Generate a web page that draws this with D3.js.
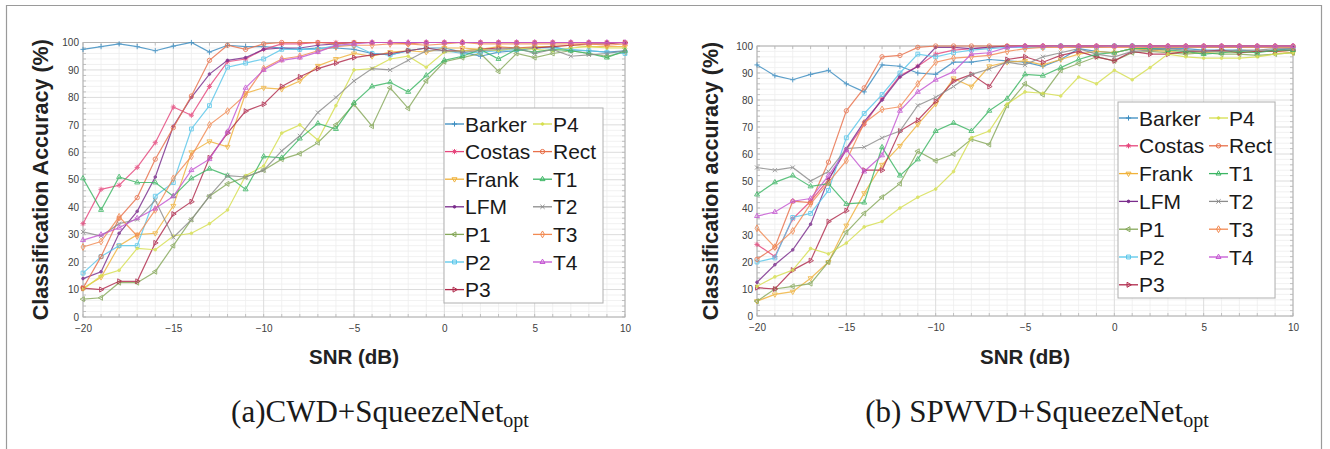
<!DOCTYPE html>
<html><head><meta charset="utf-8">
<script src="https://cdn.jsdelivr.net/npm/d3@7"></script>
<style>body{margin:0;background:#fff;} svg{display:block;}</style>
</head><body>
<svg id="c" width="1330" height="449"></svg>
<script>
const snr = d3.range(-20, 11, 1);
const seriesNames = ["Barker","Costas","Frank","LFM","P1","P2","P3","P4","Rect","T1","T2","T3","T4"];
const xTicks = [-20,-15,-10,-5,0,5,10];
const yTicks = [0,10,20,30,40,50,60,70,80,90,100];

// (a) CWD + SqueezeNet_opt
const cwdBarker = [97.5,98.5,99.5,98.5,97,98.7,100,96.5,99,98.5,98.5,98,97.5,98,98,97.5,96,95.5,97,98,98,96.5,95,96.5,97,98,98.5,97,97,96.5,97];
const cwdCostas = [34,46.5,48,54.5,63.5,76.5,73.5,84,93,94,97.5,99.5,99.5,100,100,100,100,100,100,100,100,100,100,100,100,100,100,100,100,100,100];
const cwdFrank  = [10.5,14.5,26,30,30.5,40.5,60,64,62,81.5,83.5,83,86,91.5,94,96,95,96.5,97,96.5,98,98,97.5,98.5,98,98.5,98.5,99,98.5,98.5,98.5];
const cwdLFM    = [14,16.5,30.5,38.5,51,69.5,80,88.5,93.5,94.5,97.5,98,98,99,99.5,100,100,100,100,100,100,100,100,100,100,100,100,100,100,100,100];
const cwdP1     = [6.5,7,12.5,12.5,16.5,26,35.5,44,48.5,51,53.5,57.5,59.5,63.5,70,77.5,69.5,83.5,76,86,93,94.5,96,89.5,96,94.5,96,97,96,95,96.5];
const cwdP2     = [16,22,26,26,44,49,68.5,77,91,92.5,94,97.5,97.5,97.5,99,99,96,95.5,97,98,97,96,96.5,97,97.5,98,98,97.5,97,96.5,96];
const cwdP3     = [10.5,10,13,13,27,37.5,42,58,67,75,77.5,84,87.5,90.5,92.5,94.5,95.5,96,97,98,97,97,97.5,98,98,98,98.5,99,99.5,99.5,100];
const cwdP4     = [10,15,17,25,24.5,29.5,30.5,34,39,51.5,55,67,70,64.5,77,90,90.5,94,95,91,96.5,97,97.5,97,98,97.5,97,98,98.5,98,98];
const cwdRect   = [10.5,22,36,43.5,57.5,69,80.5,93.5,99,97.5,99.5,100,100,100,99.5,100,100,100,99.5,100,100,100,100,100,100,100,100,100,100,100,100];
const cwdT1     = [50.5,39,51,49,49,44,50.5,54,51.5,46.5,58.5,58,65,70.5,68.5,78,84,85.5,82,88,93.5,95,97.5,94,97.5,96.5,97.5,97,96,94.5,97];
const cwdT2     = [31,29.5,34,35.5,42.5,29,35.5,44,51.5,51,53.5,60.5,66,74.5,80,86,90.5,90,93.5,97,97,96.5,97,97.5,98,96,97.5,95,95.5,96,97];
const cwdT3     = [25.5,27.5,36.5,29.5,39,50.5,58.5,70,75,81,90.5,94,95,97,98.5,99,99,99.5,99.5,99,99.5,100,99.5,99.5,99.5,99.5,99.5,99.5,99.5,99,99.5];
const cwdT4     = [28,30,32.5,36,39.5,44,53.5,57.5,67.5,83.5,90,93.5,94.5,96.5,99,99.5,100,100,100,100,100,100,100,100,100,100,100,100,100,100,100];

// (b) SPWVD + SqueezeNet_opt
const spwBarker = [93,89,87.5,89.5,91,86,83,93,92.5,90,89.5,94,94,95,94.5,94,92.5,95,99,98,97.5,99,99,99,99,98.5,98.5,98.5,98,98.5,99];
const spwCostas = [26.5,22,36,42.5,50.5,61.5,71,80.5,89,92.5,97,98.5,99,99.5,100,100,100,100,100,100,100,100,100,100,100,100,100,100,100,100,100];
const spwFrank  = [5.5,8,9,14,20,33.5,45.5,56,63,71,78.5,88,85,92.5,94,94.5,93,95,97,98,97.5,99,98.5,98,97.5,97.5,98,97.5,98,98,97.5];
const spwLFM    = [12.5,19,24.5,34,50.5,62,72,80,88.5,92.5,99.5,99.5,99,99.5,100,100,100,100,100,100,100,100,100,100,100,100,100,100,100,100,100];
const spwP1     = [5.5,10,11,12,20,31,38,44,49,61,57.5,60,65.5,63.5,78,86,82,91,93.5,96,94.5,97.5,98,97.5,97,97.5,97,97,96.5,97,97.5];
const spwP2     = [20,21.5,36.5,38,46.5,66,75,82,90,97,96,97.5,98.5,99,99.5,99.5,99.5,100,99.5,99.5,100,100,99.5,99.5,99.5,99.5,99.5,99.5,99.5,99.5,99.5];
const spwP3     = [10.5,10,17,20.5,35,39,54,54,68.5,72.5,79.5,87,89.5,85,95,96,94,96.5,98,96,94.5,98,97,97,98,98,98.5,97.5,98,98,98.5];
const spwP4     = [11,14.5,17,25,23,27,33,35,40,44,47,53.5,66,68.5,78.5,83,82.5,81.5,88.5,86,91,87.5,92,97,96,95.5,95.5,95.5,96,97,97.5];
const spwRect   = [21,25.5,42.5,42,57,76,84.5,96,96.5,99.5,100,100,100,100,100,100,100,100,100,100,100,100,100,100,100,100,100,100,100,100,100];
const spwT1     = [45,49.5,52,48,49,41.5,42,62.5,52,58,68.5,71.5,68.5,76,80.5,89.5,89,92,95,97,97.5,99,99,98.5,98,97,97.5,98,97.5,98.5,98.5];
const spwT2     = [55,54,55,50,53.5,62,62.5,66,68.5,78,81,85,89.5,91.5,94,93,96,97.5,99,97,96,98,98.5,99,98.5,98,98,98.5,98.5,99,99];
const spwT3     = [32.5,25.5,31.5,41.5,49.5,57.5,71.5,76.5,77.5,86,94,95.5,96,96.5,98,99,99.5,99.5,99.5,99.5,99.5,99.5,99.5,99.5,99.5,99.5,99.5,99.5,99.5,99.5,99.5];
const spwT4     = [37,38.5,42.5,43.5,52,61.5,53.5,59.5,76,83,87.5,90.5,97,97.5,99.5,100,100,100,100,100,100,100,100,100,100,100,100,100,100,100,100];

const colors = {Barker:"#3a8cc0",Costas:"#e6467c",Frank:"#f0b23a",LFM:"#7a2c8c",P1:"#86a85a",P2:"#58c6ea",P3:"#b02a4c",P4:"#d6df4e",Rect:"#e8704a",T1:"#3cb664",T2:"#8c8c8c",T3:"#f28a52",T4:"#c455d2"};
const markers = {Barker:"plus",Costas:"star",Frank:"tdown",LFM:"dot",P1:"tleft",P2:"square",P3:"tright",P4:"dot",Rect:"circle",T1:"tup",T2:"cross",T3:"diamond",T4:"tup"};

const panels = [
  {x0:83,x1:625,yTop:42.5,yBot:317,ylabel:"Classification Accuracy (%)",ylabX:48,
   leg:{x:444,y:108,w:159,h:195,row0:124,dy:27.6,c1:445,c2:533},
   cap:"(a)CWD+SqueezeNet",capX:380,
   data:[cwdBarker,cwdCostas,cwdFrank,cwdLFM,cwdP1,cwdP2,cwdP3,cwdP4,cwdRect,cwdT1,cwdT2,cwdT3,cwdT4]},
  {x0:757,x1:1293,yTop:46,yBot:316,ylabel:"Classification accuracy (%)",ylabX:718,
   leg:{x:1118,y:102,w:157,h:196,row0:118,dy:27.8,c1:1119,c2:1209},
   cap:"(b) SPWVD+SqueezeNet",capX:1037,
   data:[spwBarker,spwCostas,spwFrank,spwLFM,spwP1,spwP2,spwP3,spwP4,spwRect,spwT1,spwT2,spwT3,spwT4]}
];

const svg = d3.select("#c");
svg.append("path").attr("d","M6.5,449 V5.5 H1321.5 V449").attr("fill","none").attr("stroke","#9a9a9a").attr("stroke-width",1.2);

function markerPath(type, s){
  switch(type){
    case "plus": return `M${-s},0H${s}M0,${-s}V${s}`;
    case "cross": return `M${-s*0.8},${-s*0.8}L${s*0.8},${s*0.8}M${-s*0.8},${s*0.8}L${s*0.8},${-s*0.8}`;
    case "star": return `M${-s},0H${s}M0,${-s}V${s}M${-s*0.7},${-s*0.7}L${s*0.7},${s*0.7}M${-s*0.7},${s*0.7}L${s*0.7},${-s*0.7}`;
    case "dot": return d3.symbol(d3.symbolCircle, s*s*0.8)();
    case "circle": return d3.symbol(d3.symbolCircle, s*s*2.2)();
    case "square": return d3.symbol(d3.symbolSquare, s*s*2.2)();
    case "diamond": return d3.symbol(d3.symbolDiamond, s*s*2.0)();
    default: return d3.symbol(d3.symbolTriangle, s*s*1.6)();
  }
}
const rot = {tup:0,tdown:180,tleft:-90,tright:90};
const filled = {dot:true};

panels.forEach(p=>{
  const g = svg.append("g");
  const x = d3.scaleLinear().domain([-20,10]).range([p.x0,p.x1]);
  const y = d3.scaleLinear().domain([0,100]).range([p.yBot,p.yTop]);
  const gridG = g.append("g");
  d3.range(-20,11,1).forEach(v=>{ if(v%5) gridG.append("line").attr("x1",x(v)).attr("x2",x(v)).attr("y1",p.yTop).attr("y2",p.yBot).attr("stroke","#eeeeee").attr("stroke-width",0.8);});
  d3.range(0,101,2).forEach(v=>{ if(v%10) gridG.append("line").attr("y1",y(v)).attr("y2",y(v)).attr("x1",p.x0).attr("x2",p.x1).attr("stroke","#eeeeee").attr("stroke-width",0.8);});
  xTicks.forEach(v=>gridG.append("line").attr("x1",x(v)).attr("x2",x(v)).attr("y1",p.yTop).attr("y2",p.yBot).attr("stroke","#dcdcdc").attr("stroke-width",1));
  yTicks.forEach(v=>gridG.append("line").attr("y1",y(v)).attr("y2",y(v)).attr("x1",p.x0).attr("x2",p.x1).attr("stroke","#dcdcdc").attr("stroke-width",1));
  g.append("rect").attr("x",p.x0).attr("y",p.yTop).attr("width",p.x1-p.x0).attr("height",p.yBot-p.yTop).attr("fill","none").attr("stroke","#b4b4b4").attr("stroke-width",1);
  const xa = g.append("g").attr("transform",`translate(0,${p.yBot})`).call(d3.axisBottom(x).tickValues(xTicks).tickSize(0).tickPadding(8));
  const ya = g.append("g").attr("transform",`translate(${p.x0},0)`).call(d3.axisLeft(y).tickValues(yTicks).tickSize(0).tickPadding(4));
  [xa,ya].forEach(a=>{a.select(".domain").remove(); a.selectAll("text").attr("font-family","Arial, 'Liberation Sans', sans-serif").attr("font-size",10).attr("fill","#404040");});
  d3.range(0,101,2).forEach(v=>{
    g.append("line").attr("x1",p.x1).attr("x2",p.x1-3).attr("y1",y(v)).attr("y2",y(v)).attr("stroke","#b4b4b4").attr("stroke-width",0.8);
    g.append("line").attr("x1",p.x0).attr("x2",p.x0+3).attr("y1",y(v)).attr("y2",y(v)).attr("stroke","#b4b4b4").attr("stroke-width",0.8);
  });
  d3.range(-20,11,1).forEach(v=>{
    g.append("line").attr("x1",x(v)).attr("x2",x(v)).attr("y1",p.yBot).attr("y2",p.yBot-3).attr("stroke","#b4b4b4").attr("stroke-width",0.8);
    g.append("line").attr("x1",x(v)).attr("x2",x(v)).attr("y1",p.yTop).attr("y2",p.yTop+3).attr("stroke","#b4b4b4").attr("stroke-width",0.8);
  });
  const line = d3.line().x((d,i)=>x(snr[i])).y(d=>y(d));
  seriesNames.forEach((name,k)=>{
    const vals = p.data[k];
    const c = colors[name];
    const sg = g.append("g").attr("opacity",0.82);
    sg.append("path").datum(vals).attr("d",line).attr("fill","none").attr("stroke",c).attr("stroke-width",1.2);
    sg.selectAll("path.m").data(vals).join("path").attr("class","m")
      .attr("d",markerPath(markers[name],2.6))
      .attr("transform",(d,i)=>`translate(${x(snr[i])},${y(d)}) rotate(${rot[markers[name]]||0})`)
      .attr("fill", filled[markers[name]]? c : "none").attr("stroke",c).attr("stroke-width",1);
  });
  const L = p.leg;
  const lg = g.append("g");
  lg.append("rect").attr("x",L.x).attr("y",L.y).attr("width",L.w).attr("height",L.h).attr("fill","#fff").attr("stroke","#b0b0b0").attr("stroke-width",1);
  seriesNames.forEach((name,k)=>{
    const col = k<7?0:1, row = k<7?k:k-7;
    const lx = col? L.c2 : L.c1, ly = L.row0 + row*L.dy;
    const c = colors[name];
    lg.append("line").attr("x1",lx).attr("x2",lx+19).attr("y1",ly).attr("y2",ly).attr("stroke",c).attr("stroke-width",1.3);
    lg.append("path").attr("d",markerPath(markers[name],2.6)).attr("transform",`translate(${lx+9.5},${ly}) rotate(${rot[markers[name]]||0})`)
      .attr("fill", filled[markers[name]]? c : "none").attr("stroke",c).attr("stroke-width",1);
    lg.append("text").attr("x",lx+20).attr("y",ly).attr("dy","0.36em").text(name)
      .attr("font-family","Arial, 'Liberation Sans', sans-serif").attr("font-size",21).attr("fill","#1a1a1a");
  });
  g.append("text").attr("x",(p.x0+p.x1)/2).attr("y",364).attr("text-anchor","middle").text("SNR (dB)")
    .attr("font-family","Arial, 'Liberation Sans', sans-serif").attr("font-weight","bold").attr("font-size",20.5).attr("fill","#222");
  g.append("text").attr("transform",`translate(${p.ylabX},${(p.yTop+p.yBot)/2}) rotate(-90)`).attr("text-anchor","middle").text(p.ylabel)
    .attr("font-family","Arial, 'Liberation Sans', sans-serif").attr("font-weight","bold").attr("font-size",21.5).attr("fill","#222");
  const cap = g.append("text").attr("x",p.capX).attr("y",422).attr("text-anchor","middle")
    .attr("font-family","'Liberation Serif','Times New Roman',serif").attr("font-size",31).attr("fill","#1a1a1a");
  cap.append("tspan").text(p.cap);
  cap.append("tspan").attr("font-size",20).attr("dy",5).text("opt");
});
</script>
</body></html>
